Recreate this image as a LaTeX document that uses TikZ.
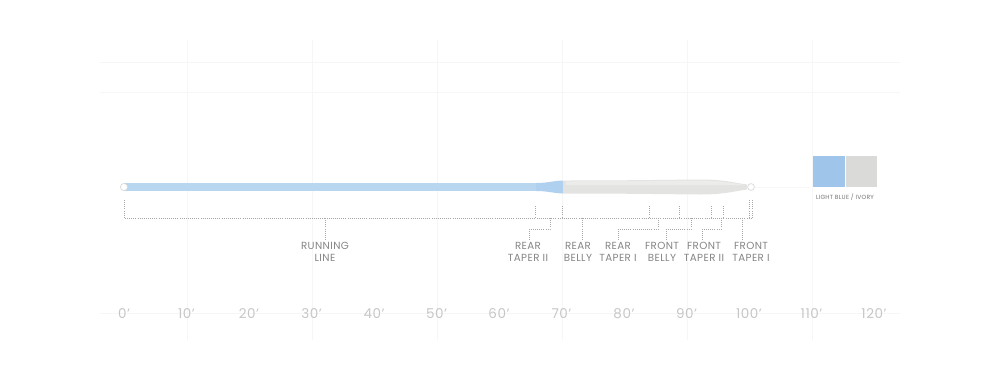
\documentclass[tikz,border=0pt]{standalone}
\usepackage{fontspec}
\setmainfont{Poppins}
\newfontfamily\lblfont[LetterSpace=4]{Poppins}
\definecolor{runblue}{HTML}{B9D6F0}
\definecolor{taperblue}{HTML}{AFD0EE}
\definecolor{ivorybody}{HTML}{E3E3E1}
\definecolor{swblue}{HTML}{9FC5EA}
\definecolor{swivory}{HTML}{DADAD8}
\definecolor{lbl}{HTML}{858585}
\definecolor{axisc}{HTML}{C6C6C6}
\definecolor{gridc}{HTML}{F6F6F6}
\definecolor{dotc}{HTML}{A8A8A8}
\begin{document}
\begin{tikzpicture}[x=1pt,y=-1pt,
  dotline/.style={draw=dotc, line width=0.7pt, dash pattern=on 0.8pt off 1.3pt},
  seclabel/.style={font=\lblfont\fontsize{10.3}{12}\selectfont, text=lbl, align=center, inner sep=0pt, outer sep=2pt, anchor=north},
  axislabel/.style={font=\lblfont\fontsize{13.5}{13.5}\selectfont, text=axisc, inner sep=0pt},
  gridline/.style={draw=gridc, line width=0.8pt},
  loopring/.style={draw=gray!30, fill=white, line width=0.7pt}]
\useasboundingbox (0,0) rectangle (1000,375);
% faint background grid
\foreach \gx in {187,312,437,562,687,812}
  \draw[gridline] (\gx,40) -- (\gx,340);
\foreach \gy in {62,92,313}
  \draw[gridline] (100,\gy) -- (900,\gy);
% fly line
\coordinate (start) at (124,187);
\coordinate (tip) at (751,187);
\draw[gridline] (tip) -- (810,187);
\draw[runblue, line width=8pt] (start) -- (538,187);
\fill[taperblue] (536,183) .. controls (548,183) and (553,180.8) .. (563,180.5)
  -- (563,193.5) .. controls (553,193.2) and (548,191) .. (536,191) -- cycle;
\fill[ivorybody] (563,180.5) .. controls (620,180.5) and (650,180) .. (700,179.5)
  .. controls (725,179.5) and (735,183) .. (747,184.5) -- (747,189.5)
  .. controls (735,191) and (725,194.5) .. (700,194.5)
  .. controls (650,194) and (620,193.5) .. (563,193.5) -- cycle;
\fill[white, opacity=0.35] (566,181.5) .. controls (620,181.5) and (650,181) .. (700,180.5)
  .. controls (720,180.5) and (732,183) .. (744,185) -- (700,185) -- (566,185) -- cycle;
\draw[loopring] (start) circle (3.6);
\draw[loopring] (tip) circle (3.4);
% dotted brackets
\coordinate (m0) at (124,218);
\coordinate (mend) at (752,218);
\draw[dotline] (124,200) -- (m0) -- (mend);
\foreach \tx in {535,562,649,679,711,723}
  \draw[dotline] (\tx,206) -- (\tx,218);
\draw[dotline] (749,200) -- (749,218);
\draw[dotline] (752,200) -- (752,218);
% labels
\node[seclabel] (running) at (325,240) {RUNNING\\LINE};
\node[seclabel] (rt2) at (528,240) {REAR\\TAPER II};
\node[seclabel] (rb) at (578,240) {REAR\\BELLY};
\node[seclabel] (rt1) at (618,240) {REAR\\TAPER I};
\node[seclabel] (fb) at (662,240) {FRONT\\BELLY};
\node[seclabel] (ft2) at (704,240) {FRONT\\TAPER II};
\node[seclabel] (ft1) at (751,240) {FRONT\\TAPER I};
% connectors
\coordinate (crun) at (325,218);
\coordinate (crt2) at (550,218);
\coordinate (crb) at (582,218);
\coordinate (crt1) at (658,218);
\coordinate (cfb) at (691,218);
\coordinate (cft2) at (721,218);
\coordinate (cft1) at (742,218);
\draw[dotline] (crun) -- (running.north);
\draw[dotline] (crt2) -- (550,229) -- (529,229) -- (529,229 |- rt2.north);
\draw[dotline] (crb) -- (crb |- rb.north);
\draw[dotline] (crt1) -- (658,229) -- (618,229) -- (618,229 |- rt1.north);
\draw[dotline] (cfb) -- (691,229) -- (666,229) -- (666,229 |- fb.north);
\draw[dotline] (cft2) -- (721,229) -- (702,229) -- (702,229 |- ft2.north);
\draw[dotline] (cft1) -- (cft1 |- ft1.north);
% axis
\foreach \n in {0,10,...,120}
  \node[axislabel] (ax\n) at ({124+6.25*\n},314) {\n’};
% swatch
\node[fill=swblue, minimum width=32pt, minimum height=31pt, inner sep=0pt, anchor=north west] (swb) at (813,156) {};
\node[fill=swivory, minimum width=31pt, minimum height=31pt, inner sep=0pt, anchor=north west] (swi) at (swb.north east) {};
\node[font=\lblfont\fontsize{6}{6}\selectfont, text=gray!90!black, inner sep=0pt, anchor=north] (swl) at (845,194) {LIGHT BLUE / IVORY};
\end{tikzpicture}
\end{document}
